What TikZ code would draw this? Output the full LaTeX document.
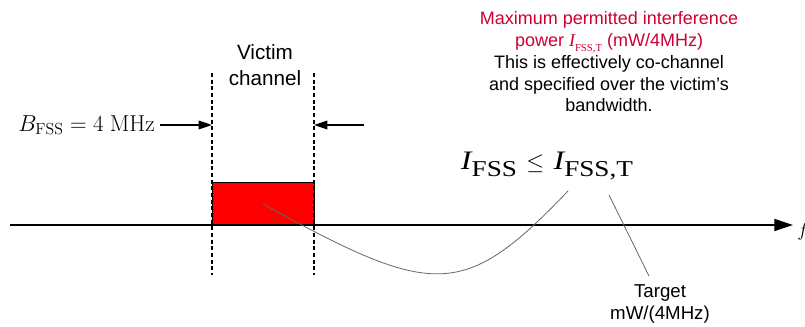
\documentclass[tikz,border=0pt]{standalone}
\usepackage[no-math]{fontspec}
\setmainfont{Liberation Sans}
\newfontfamily\tnr{Liberation Serif}
\usetikzlibrary{arrows.meta}
\definecolor{crim}{RGB}{204,0,51}
\newcommand{\subFSS}[2]{{\tnr\itshape #1}\raisebox{-0.25em}{\tnr\fontsize{#2}{#2}\selectfont FSS}}
\newcommand{\subFSST}[2]{{\tnr\itshape #1}\raisebox{-0.25em}{\tnr\fontsize{#2}{#2}\selectfont FSS,T}}
\begin{document}
\begin{tikzpicture}[x=0.75pt,y=-0.75pt,
  axisline/.style={line width=1.2pt},
  dashline/.style={line width=0.8pt, dash pattern=on 3pt off 2pt},
  guide/.style={line width=0.6pt, draw=black!60},
  bwarrow/.style={line width=1pt, -{Triangle[length=10pt,width=6.5pt]}},
  sanslabel/.style={align=center, inner sep=0pt},
]
\useasboundingbox (0,0) rectangle (805,327);

% red victim band
\node (band) [draw=black, line width=1pt, fill=red, minimum width=76.5pt, minimum height=31.5pt, inner sep=0pt, anchor=south west] at (212,225) {};

% axis
\coordinate (a0) at (10,225);
\coordinate (a1) at (793,225);
\draw[axisline, -{Triangle[length=14pt,width=9pt]}] (a0) -- (a1);
\node (flab) [anchor=base west, inner sep=0pt, font=\fontsize{14}{14}\selectfont] at (797,237) {$f$};

% dashed channel edges
\coordinate (lt) at (212,73);
\coordinate (lb) at (212,275);
\coordinate (rt) at (314,73);
\coordinate (rb) at (314,275);
\draw[dashline] (lt) -- (lb);
\draw[dashline] (rt) -- (rb);

% bandwidth arrows
\coordinate (la) at (160,125);
\coordinate (lh) at (212,125);
\coordinate (ra) at (364,125);
\coordinate (rh) at (314,125);
\draw[bwarrow] (la) -- (lh);
\draw[bwarrow] (ra) -- (rh);

\node (blabel) [anchor=east, inner sep=0pt, font=\fontsize{16.5}{18}\selectfont] at (155,125) {$B_{\mathrm{FSS}} = 4\ \mathrm{MHz}$};

\node (victim) [sanslabel, font=\fontsize{15.5}{19.5}\selectfont] at (265,65) {Victim\\channel};

% note
\node (note) [sanslabel, font=\fontsize{13.5}{16.3}\selectfont] at (609,62)
 {\textcolor{crim}{Maximum permitted interference}\\
  \textcolor{crim}{power \subFSST{I}{8} (mW/4MHz)}\\
  This is effectively co-channel\\
  and specified over the victim’s\\
  bandwidth.};

% inequality
\node (ineq) [inner sep=0pt, anchor=base, font=\fontsize{20}{22}\selectfont] at (547,170)
 {\scalebox{1.2}[1]{\subFSS{I}{17}}\hspace{7pt}{\fontsize{16}{16}\selectfont$\le$}\hspace{7pt}\scalebox{1.2}[1]{\subFSST{I}{17}}};

% curve from band to I_FSS
\coordinate (cs) at (263,204);
\coordinate (ce) at (568,191);
\draw[guide] (cs) .. controls (433,297.5) and (463,301) .. (ce);

% target
\coordinate (ts) at (609,195);
\coordinate (te) at (649,276);
\draw[guide] (ts) -- (te);
\node (target) [sanslabel, font=\fontsize{14}{16.5}\selectfont] at (660,304) {Target\\mW/(4MHz)};
\end{tikzpicture}
\end{document}
